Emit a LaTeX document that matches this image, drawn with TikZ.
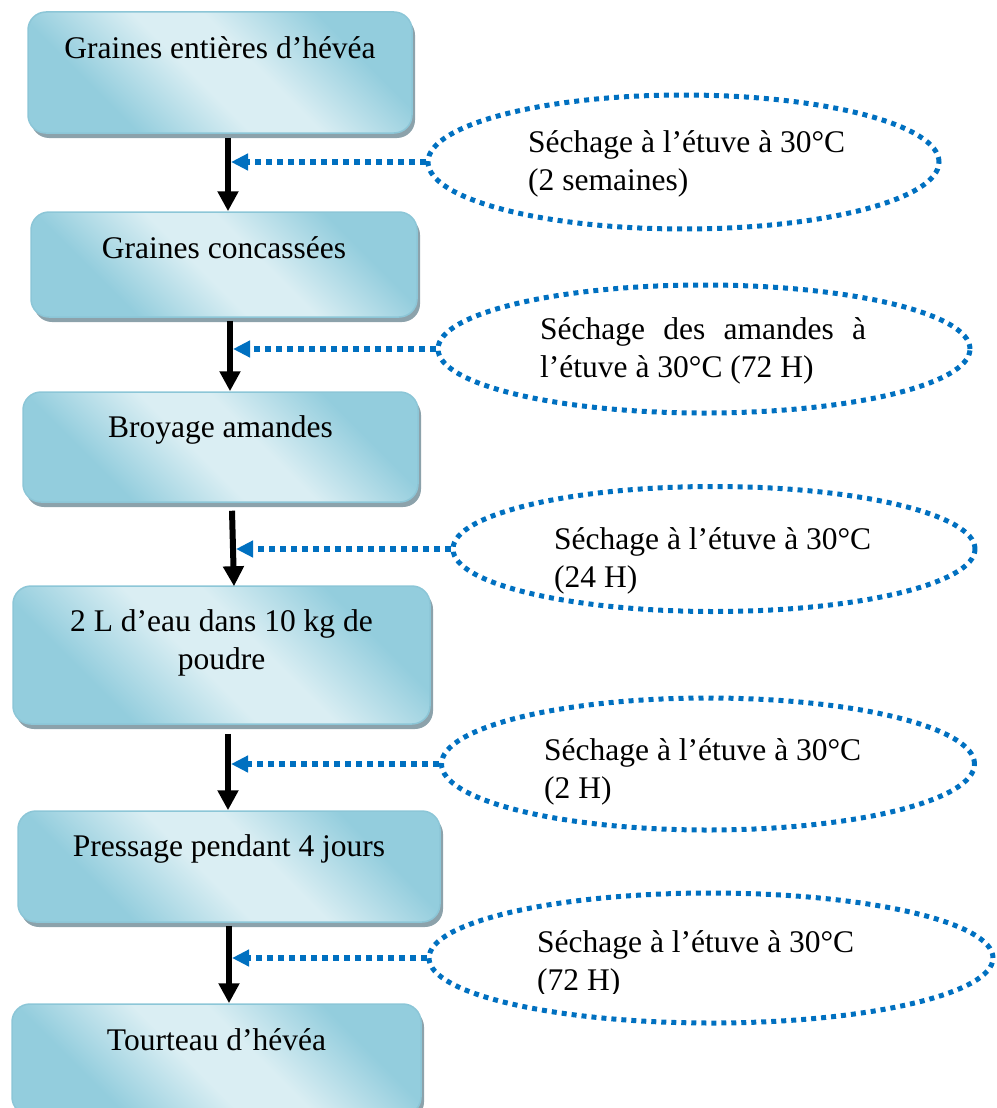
\documentclass[tikz,border=0pt]{standalone}
\usepackage{fontspec}
\setmainfont{Liberation Serif}
\usetikzlibrary{shapes.geometric,arrows.meta,shadows}
\definecolor{bdark}{HTML}{93CDDD}
\definecolor{blight}{HTML}{DAEEF3}
\definecolor{bedge}{HTML}{8CC6D7}
\definecolor{bshadow}{HTML}{8CA2AB}
\definecolor{dblue}{HTML}{0070C0}
\pgfdeclarehorizontalshading{boxshade}{100bp}{color(0bp)=(bdark); color(30bp)=(bdark); color(46bp)=(blight); color(56bp)=(blight); color(72bp)=(bdark); color(100bp)=(bdark)}
\begin{document}
\begin{tikzpicture}[x=1pt,y=-1pt,
  stepbox/.style={rectangle, rounded corners=18pt, draw=bedge, line width=1.5pt,
    shading=boxshade, shading angle=45, inner sep=0pt,
    drop shadow={shadow xshift=3pt, shadow yshift=-5pt, fill=bshadow, opacity=1}},
  txt/.style={font=\fontsize{31.5}{38}\selectfont, inner sep=0pt},
  ell/.style={ellipse, draw=dblue, line width=5pt, dash pattern=on 5pt off 5pt, inner sep=0pt},
  feed/.style={draw=dblue, line width=6pt, dash pattern=on 6pt off 5pt,
    -{Triangle[width=16pt,length=17pt]}},
  flow/.style={draw=black, line width=6pt, -{Triangle[width=20pt,length=20pt]}}]
\useasboundingbox (0,0) rectangle (996,1108);

% ellipses
\node[ell, minimum width=511pt, minimum height=134pt] (e1) at (683.5,162) {};
\node[ell, minimum width=532pt, minimum height=128pt] (e2) at (704,349) {};
\node[ell, minimum width=522pt, minimum height=125pt] (e3) at (714,549) {};
\node[ell, minimum width=533pt, minimum height=132pt] (e4) at (708,764) {};
\node[ell, minimum width=564pt, minimum height=130pt] (e5) at (711,958) {};

\node[txt, anchor=base west, align=left] (s1) at (528,190) {Séchage à l’étuve à 30°C\\(2 semaines)};
\node[txt, anchor=base west, align=left] (s2) at (540,377) {\makebox[326pt][l]{Séchage\hfill des\hfill amandes\hfill à}\\l’étuve à 30°C (72 H)};
\node[txt, anchor=base west, align=left] (s3) at (554,587) {Séchage à l’étuve à 30°C\\(24 H)};
\node[txt, anchor=base west, align=left] (s4) at (544,798) {Séchage à l’étuve à 30°C\\(2 H)};
\begin{scope}
\clip (500,900) rectangle (980,993);
\node[txt, anchor=base west, align=left] (s5) at (537,990) {Séchage à l’étuve à 30°C\\(72 H)};
\end{scope}

% boxes
\node[stepbox, minimum width=384pt, minimum height=121pt] (b1) at (220,72.5) {};
\node[stepbox, minimum width=386pt, minimum height=105pt] (b2) at (224,264.5) {};
\node[stepbox, minimum width=395pt, minimum height=110pt] (b3) at (220.5,447) {};
\node[stepbox, minimum width=417pt, minimum height=138pt] (b4) at (221.5,655) {};
\node[stepbox, minimum width=422pt, minimum height=111pt] (b5) at (229,866.5) {};
\node[stepbox, minimum width=409pt, minimum height=111pt] (b6) at (216.5,1059.5) {};

\node[txt, anchor=base] (t1) at ([yshift=-47pt]b1.north) {Graines entières d’hévéa};
\node[txt, anchor=base] (t2) at ([yshift=-47pt]b2.north) {Graines concassées};
\node[txt, anchor=base] (t3) at ([yshift=-46pt]b3.north) {Broyage amandes};
\node[txt, anchor=base, align=center] (t4) at ([yshift=-84pt]b4.north) {2 L d’eau dans 10 kg de\\poudre};
\node[txt, anchor=base] (t5) at ([yshift=-46pt]b5.north) {Pressage pendant 4 jours};
\node[txt, anchor=base] (t6) at ([yshift=-47pt]b6.north) {Tourteau d’hévéa};

% main flow
\draw[flow] ([xshift=8pt,yshift=-4pt]b1.south) -- ([xshift=4pt]b2.north);
\draw[flow] ([xshift=6pt,yshift=-3pt]b2.south) -- ([xshift=9.5pt]b3.north);
\draw[flow] ([xshift=11.5pt,yshift=-8pt]b3.south) -- ([xshift=12.5pt,yshift=-1pt]b4.north);
\draw[flow] ([xshift=6.5pt,yshift=-9pt]b4.south) -- ([xshift=-1pt]b5.north);
\draw[flow] ([yshift=-3pt]b5.south) -- ([xshift=12.5pt]b6.north);

% feeds
\coordinate (c1) at (231,0);
\coordinate (c2) at (233,0);
\coordinate (c3) at (236,0);
\coordinate (c4) at (231,0);
\coordinate (c5) at (232,0);
\draw[feed] (e1.west) -- (e1.west -| c1);
\draw[feed] (e2.west) -- (e2.west -| c2);
\draw[feed] (e3.west) -- (e3.west -| c3);
\draw[feed] (e4.west) -- (e4.west -| c4);
\draw[feed] (e5.west) -- (e5.west -| c5);
\end{tikzpicture}
\end{document}
